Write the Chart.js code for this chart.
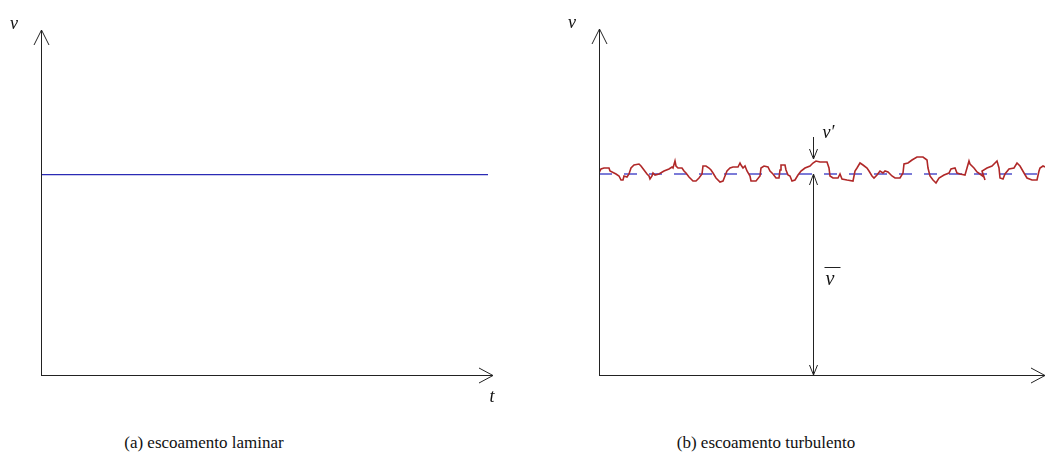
<!DOCTYPE html>
<html lang="pt">
<head>
    <meta charset="UTF-8">
    <title>Escoamento laminar e turbulento</title>
    <style>
        body {
            margin: 0;
            background: #fff;
            width: 1045px;
            height: 455px;
            position: relative;
            overflow: hidden;
            font-family: 'Liberation Serif', 'DejaVu Serif', serif;
        }
        canvas { position: absolute; top: 0; }
        #chartA { left: 0; }
        #chartB { left: 560px; }
        .caption {
            position: absolute;
            top: 433px;
            font-size: 17px;
            color: #111;
            text-align: center;
            white-space: nowrap;
        }
    </style>
</head>
<body>
    <canvas id="chartA" width="520" height="410"></canvas>
    <canvas id="chartB" width="485" height="410"></canvas>
    <div class="caption" style="left:0;width:408px;">(a) escoamento laminar</div>
    <div class="caption" style="left:560px;width:412px;">(b) escoamento turbulento</div>

    <script src="https://cdn.jsdelivr.net/npm/chart.js"></script>
    <script>
        // velocidade media (mesma escala nos dois graficos)
        const vMean = 20.1;
        const vMax = 34.6;

        // (a) laminar: linha constante
        const tLaminar = [0, 44.7];
        const tAxisA = 45.2;

        // (b) turbulento: tempo e flutuacao v'
        const tTurb = [0, 0.2, 0.5, 1.0, 1.1, 1.7, 2.0, 2.2, 2.4, 2.5, 2.8, 3.0, 3.2, 3.5, 4.0, 4.2, 4.5, 4.8, 5.0, 5.1,
            5.3, 5.4, 5.6, 6.0, 6.5, 7.0, 7.3, 7.4, 7.6, 7.7, 7.9, 8.3, 8.5, 8.7, 9.0, 9.4, 9.7, 10.0, 10.3, 10.4,
            10.7, 11.0, 11.2, 11.4, 11.7, 12.1, 12.4, 12.6, 12.8, 13.1, 13.4, 13.9, 14.1, 14.2, 14.4, 14.6, 14.8, 15.1, 15.2, 15.7,
            16.1, 16.2, 16.5, 16.9, 17.1, 17.4, 17.7, 18.0, 18.1, 18.2, 18.6, 18.7, 18.9, 19.1, 19.3, 19.6, 19.9, 20.2, 20.6, 21.1,
            21.4, 21.7, 22.1, 22.8, 23.0, 23.1, 23.4, 23.9, 24.1, 24.3, 24.8, 25.4, 25.6, 25.8, 26.1, 26.4, 26.8, 27.0, 27.3, 27.5,
            27.8, 28.1, 28.4, 28.6, 28.9, 29.3, 29.6, 30.1, 30.4, 30.5, 30.9, 31.3, 31.8, 32.4, 32.8, 32.9, 33.1, 33.4, 33.5, 33.7,
            34.0, 34.5, 35.0, 35.2, 35.6, 35.8, 36.1, 36.6, 36.8, 37.0, 37.1, 37.5, 37.8, 38.1, 38.5, 38.6, 38.3, 38.8, 39.3, 39.8,
            40.0, 40.1, 40.4, 40.6, 41.0, 41.5, 41.8, 42.1, 42.5, 42.8, 43.3, 43.8, 44.0, 44.1, 44.4, 44.6];
        const vPrime = [0.1, 0.5, 0.6, 0.6, 0.3, 0.0, -0.2, -0.6, -0.6, -0.2, -0.3, 0.0, 0.6, 0.9, 1.0, 0.8, 0.4, 0.0, -0.2, -0.5,
            -0.2, 0.1, -0.1, 0.0, 0.3, 0.5, 0.7, 0.6, 1.3, 0.8, 0.6, 0.6, 0.3, 0.1, -0.3, -0.7, -0.7, -0.4, 0.0, 0.8,
            0.8, 0.6, 0.4, 0.1, -0.4, -0.8, -0.7, -0.2, 0.3, 0.6, 0.7, 0.7, 1.1, 0.9, 0.6, 0.8, 0.3, -0.2, -0.7, -0.7,
            -0.2, 0.6, 0.8, 0.7, 0.3, 0.0, -0.4, -0.4, 0.4, 0.9, 0.9, 0.4, -0.1, -0.2, -0.7, -0.6, -0.1, 0.3, 0.6, 0.8,
            1.1, 1.3, 1.2, 1.2, 0.6, -0.2, -0.4, -0.4, 0.0, -0.5, -0.6, -0.7, 0.3, 0.6, 1.1, 0.9, 0.6, 0.3, -0.2, -0.4,
            -0.1, 0.3, 0.1, 0.3, 0.2, -0.2, -0.4, -0.4, 0.1, 1.0, 1.1, 1.4, 1.7, 1.7, 1.4, 0.6, -0.2, -0.6, -0.7, -0.9,
            -0.4, -0.1, 0.1, 0.5, 0.6, 0.1, 0.0, -0.1, 0.6, 1.3, 1.0, 0.6, 0.2, 0.0, -0.3, -0.6, 0.3, 0.6, 0.8, 1.3,
            0.6, -0.4, -0.5, 0.0, 0.5, 0.6, 1.1, 0.8, 0.1, -0.4, -0.6, -0.6, 0.3, 0.6, 0.8, 0.7];
        const tAxisB = 44.6;
        const tMark = 21.4;      // posicao das setas v' e v-barra
        const vPrimeTop = 3.7;   // inicio da seta v' acima da media
        const vPrimePeak = 1.5;  // ponta da seta v'

        const axisColor = '#222';

        function arrowHead(ctx, x, y, dx, dy, len, half) {
            // ponta em (x,y), direcao (dx,dy)
            const px = -dy, py = dx;
            ctx.beginPath();
            ctx.moveTo(x - dx * len + px * half, y - dy * len + py * half);
            ctx.lineTo(x, y);
            ctx.lineTo(x - dx * len - px * half, y - dy * len - py * half);
            ctx.stroke();
        }

        function drawAxes(chart, tMax) {
            const ctx = chart.ctx;
            const xs = chart.scales.x, ys = chart.scales.y;
            const x0 = xs.getPixelForValue(0), y0 = ys.getPixelForValue(0);
            const xEnd = xs.getPixelForValue(tMax), yTop = ys.getPixelForValue(vMax);
            ctx.save();
            ctx.strokeStyle = axisColor;
            ctx.lineWidth = 1;
            ctx.beginPath();
            ctx.moveTo(x0 + 0.5, y0);
            ctx.lineTo(x0 + 0.5, yTop);
            ctx.moveTo(x0, y0 + 0.5);
            ctx.lineTo(xEnd, y0 + 0.5);
            ctx.stroke();
            arrowHead(ctx, x0 + 0.5, yTop, 0, -1, 15, 7.5);
            arrowHead(ctx, xEnd, y0 + 0.5, 1, 0, 14, 7.5);
            ctx.restore();
        }

        const laminarPlugin = {
            id: 'laminarDeco',
            afterDraw(chart) {
                drawAxes(chart, tAxisA);
                const ctx = chart.ctx;
                ctx.save();
                ctx.fillStyle = '#111';
                ctx.font = 'italic 18px "Liberation Serif", serif';
                ctx.textAlign = 'center';
                ctx.fillText('v', 14, 29);
                ctx.fillText('t', chart.scales.x.getPixelForValue(tAxisA) - 1, 402);
                ctx.restore();
            }
        };

        const turbPlugin = {
            id: 'turbDeco',
            afterDraw(chart) {
                drawAxes(chart, tAxisB);
                const ctx = chart.ctx;
                const xs = chart.scales.x, ys = chart.scales.y;
                const xm = Math.round(xs.getPixelForValue(tMark)) + 0.5;
                const yMean = ys.getPixelForValue(vMean);
                const yZero = ys.getPixelForValue(0);
                const yTopV = ys.getPixelForValue(vMean + vPrimeTop);
                const yPeak = ys.getPixelForValue(vMean + vPrimePeak);
                ctx.save();
                ctx.strokeStyle = axisColor;
                ctx.lineWidth = 1;
                ctx.beginPath();
                ctx.moveTo(xm, yTopV);
                ctx.lineTo(xm, yPeak);
                ctx.moveTo(xm, yMean);
                ctx.lineTo(xm, yZero);
                ctx.stroke();
                arrowHead(ctx, xm, yPeak, 0, 1, 10, 4);
                arrowHead(ctx, xm, yMean, 0, -1, 11, 4);
                arrowHead(ctx, xm, yZero, 0, 1, 10, 4);

                ctx.fillStyle = '#111';
                ctx.font = 'italic 18px "Liberation Serif", serif';
                ctx.textAlign = 'center';
                ctx.fillText('v', 12, 28);
                ctx.textAlign = 'left';
                ctx.fillText('v\u2032', xm + 9, 138);
                ctx.font = 'italic 20px "Liberation Serif", serif';
                ctx.fillText('v', xm + 12, 285);
                ctx.beginPath();
                ctx.moveTo(xm + 11, 267.5);
                ctx.lineTo(xm + 27, 267.5);
                ctx.stroke();
                ctx.restore();
            }
        };

        function baseOptions(padding, tMax) {
            return {
                responsive: false,
                animation: false,
                devicePixelRatio: 1,
                layout: { padding: padding },
                plugins: { legend: { display: false }, tooltip: { enabled: false } },
                scales: {
                    x: { type: 'linear', min: 0, max: tMax, display: false },
                    y: { type: 'linear', min: 0, max: vMax, display: false }
                }
            };
        }

        new Chart(document.getElementById('chartA'), {
            type: 'scatter',
            data: {
                datasets: [{
                    data: tLaminar.map(t => ({ x: t, y: vMean })),
                    showLine: true,
                    borderColor: '#2b2bb5',
                    borderWidth: 1.2,
                    pointRadius: 0
                }]
            },
            options: baseOptions({ left: 41, top: 30, right: 27, bottom: 35 }, tAxisA),
            plugins: [laminarPlugin]
        });

        new Chart(document.getElementById('chartB'), {
            type: 'scatter',
            data: {
                datasets: [{
                    data: tTurb.map((t, i) => ({ x: t, y: vMean + vPrime[i] })),
                    showLine: true,
                    borderColor: '#b02828',
                    borderWidth: 1.6,
                    pointRadius: 0,
                    order: 0
                }, {
                    data: [0, tAxisB].map(t => ({ x: t, y: vMean })),
                    showLine: true,
                    borderColor: '#5050cc',
                    borderWidth: 1.5,
                    borderDash: [13, 12],
                    pointRadius: 0,
                    order: 1
                }]
            },
            options: baseOptions({ left: 39, top: 29, right: 0, bottom: 35 }, tAxisB),
            plugins: [turbPlugin]
        });
    </script>
</body>
</html>
